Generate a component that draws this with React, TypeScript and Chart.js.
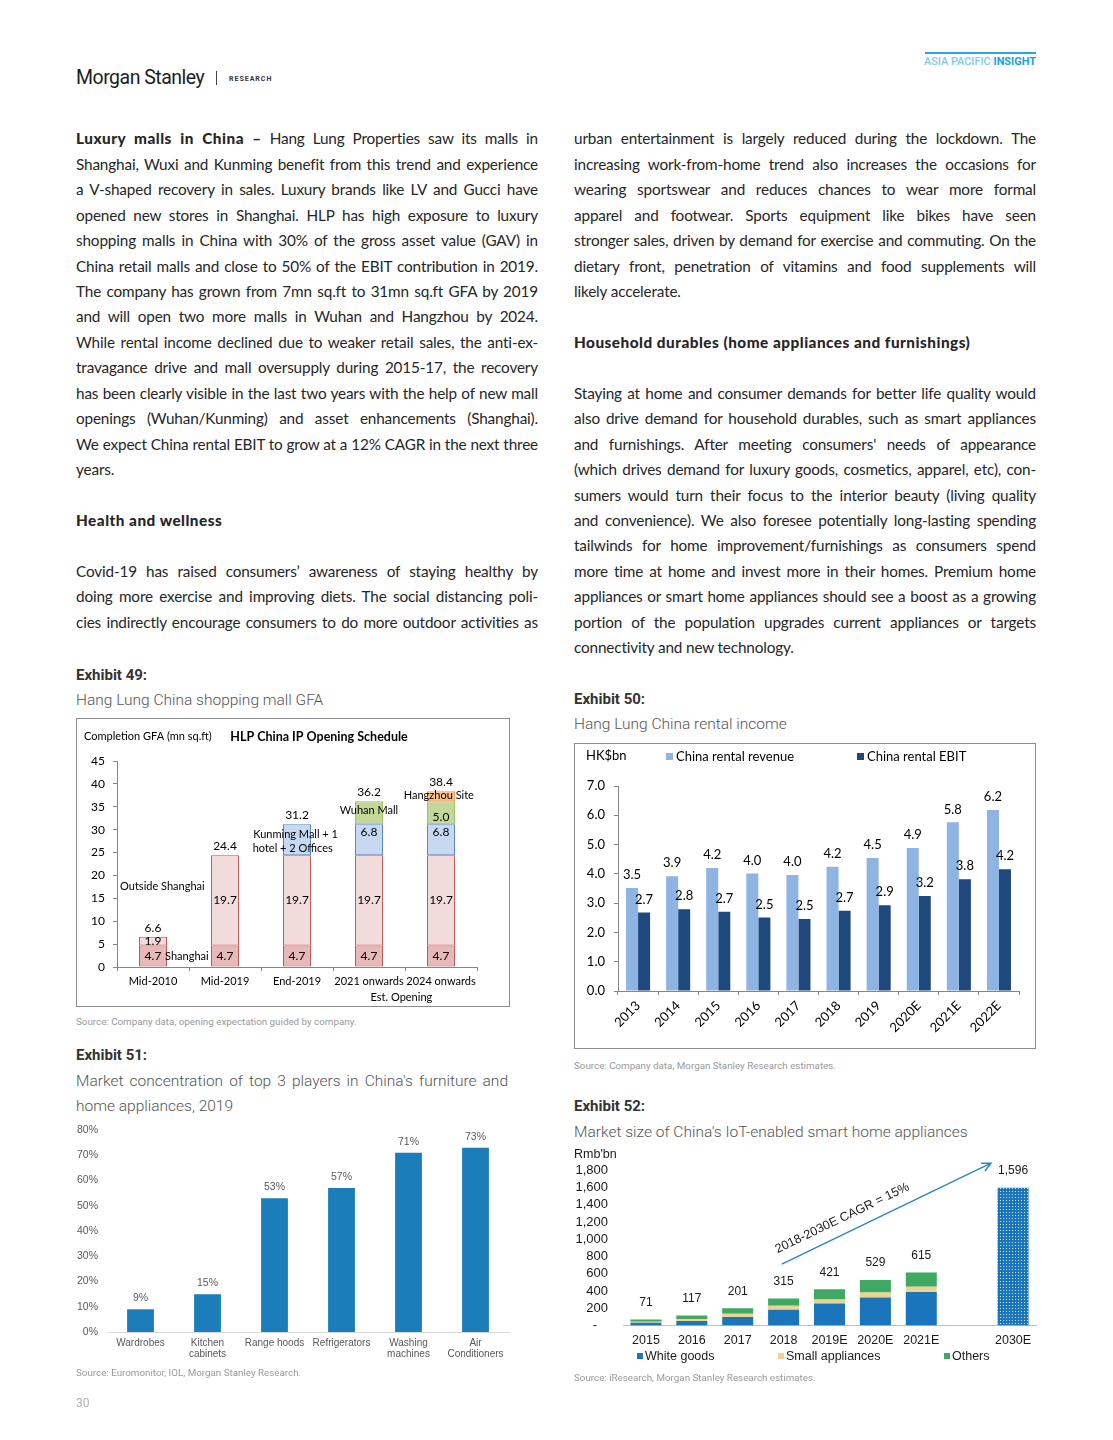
import React, { useEffect, useRef } from 'react';
import { Chart, registerables } from 'chart.js';

Chart.register(...registerables);

// ---------------- Exhibit 49: Hang Lung China shopping mall GFA ----------------
const gfaCategories = ['Mid-2010', 'Mid-2019', 'End-2019', '2021 onwards', '2024 onwards'];
const gfaShanghai = [4.7, 4.7, 4.7, 4.7, 4.7];
const gfaOutsideShanghai = [1.9, 19.7, 19.7, 19.7, 19.7];
const gfaKunming = [null, null, 6.8, 6.8, 6.8];
const gfaWuhan = [null, null, null, 5.0, 5.0];
const gfaHangzhou = [null, null, null, null, 2.2];

// ---------------- Exhibit 50: Hang Lung China rental income ----------------
const rentalYears = ['2013', '2014', '2015', '2016', '2017', '2018', '2019', '2020E', '2021E', '2022E'];
const rentalRevenue = [3.52, 3.92, 4.2, 4.01, 3.96, 4.24, 4.54, 4.88, 5.76, 6.18];
const rentalEbit = [2.68, 2.79, 2.71, 2.51, 2.46, 2.74, 2.93, 3.24, 3.82, 4.16];

// ---------------- Exhibit 51: Market concentration ----------------
const concCategories = [['Wardrobes'], ['Kitchen', 'cabinets'], ['Range hoods'], ['Refrigerators'], ['Washing', 'machines'], ['Air', 'Conditioners']];
const concShare = [9, 15, 53, 57, 71, 73];

// ---------------- Exhibit 52: IoT smart home appliances ----------------
const iotYears = ['2015', '2016', '2017', '2018', '2019E', '2020E', '2021E', '', '2030E'];
const iotWhiteGoods = [32, 53, 100, 183, 256, 325, 388, null, null];
const iotSmallAppliances = [12, 20, 36, 48, 47, 59, 63, null, null];
const iotOthers = [27, 44, 65, 84, 118, 145, 164, null, null];
const iotTotal2030 = [null, null, null, null, null, null, null, null, 1596];
const iotCagrLabel = '2018-2030E CAGR = 15%';

// ---------------- Body text ----------------
type Line = { text?: string; bold?: string; last?: boolean } | null;

const leftLines: Line[] = [
  { bold: 'Luxury malls in China –', text: ' Hang Lung Properties saw its malls in' },
  { text: 'Shanghai, Wuxi and Kunming benefit from this trend and experience' },
  { text: 'a V-shaped recovery in sales. Luxury brands like LV and Gucci have' },
  { text: 'opened new stores in Shanghai. HLP has high exposure to luxury' },
  { text: 'shopping malls in China with 30% of the gross asset value (GAV) in' },
  { text: 'China retail malls and close to 50% of the EBIT contribution in 2019.' },
  { text: 'The company has grown from 7mn sq.ft to 31mn sq.ft GFA by 2019' },
  { text: 'and will open two more malls in Wuhan and Hangzhou by 2024.' },
  { text: 'While rental income declined due to weaker retail sales, the anti-ex-' },
  { text: 'travagance drive and mall oversupply during 2015-17, the recovery' },
  { text: 'has been clearly visible in the last two years with the help of new mall' },
  { text: 'openings (Wuhan/Kunming) and asset enhancements (Shanghai).' },
  { text: 'We expect China rental EBIT to grow at a 12% CAGR in the next three' },
  { text: 'years.', last: true },
  null,
  { bold: 'Health and wellness', last: true },
  null,
  { text: 'Covid-19 has raised consumers’ awareness of staying healthy by' },
  { text: 'doing more exercise and improving diets. The social distancing poli-' },
  { text: 'cies indirectly encourage consumers to do more outdoor activities as' },
];

const rightLines: Line[] = [
  { text: 'urban entertainment is largely reduced during the lockdown. The' },
  { text: 'increasing work-from-home trend also increases the occasions for' },
  { text: 'wearing sportswear and reduces chances to wear more formal' },
  { text: 'apparel and footwear. Sports equipment like bikes have seen' },
  { text: 'stronger sales, driven by demand for exercise and commuting. On the' },
  { text: 'dietary front, penetration of vitamins and food supplements will' },
  { text: 'likely accelerate.', last: true },
  null,
  { bold: 'Household durables (home appliances and furnishings)', last: true },
  null,
  { text: 'Staying at home and consumer demands for better life quality would' },
  { text: 'also drive demand for household durables, such as smart appliances' },
  { text: "and furnishings. After meeting consumers' needs of appearance" },
  { text: '(which drives demand for luxury goods, cosmetics, apparel, etc), con-' },
  { text: 'sumers would turn their focus to the interior beauty (living quality' },
  { text: 'and convenience). We also foresee potentially long-lasting spending' },
  { text: 'tailwinds for home improvement/furnishings as consumers spend' },
  { text: 'more time at home and invest more in their homes. Premium home' },
  { text: 'appliances or smart home appliances should see a boost as a growing' },
  { text: 'portion of the population upgrades current appliances or targets' },
  { text: 'connectivity and new technology.', last: true },
];

const CAL = 'Lato, "Liberation Sans", sans-serif';
const ARIAL = '"Liberation Sans", Arial, sans-serif';
const AXIS_GREY = '#868686';

// fix an axis box size and drop the extra label padding it asks of the layout
const fixWidth = (w: number) => (s: any) => { s.width = w; s.paddingTop = 0; s.paddingBottom = 0; };
const fixHeight = (h: number) => (s: any) => { s.height = h; s.paddingLeft = 0; s.paddingRight = 0; };

// ---------------- Chart configs ----------------
function gfaConfig(): any {
  const mk = (label: string, data: any[], bg: string, border: string) => ({
    label, data, backgroundColor: bg, borderColor: border, borderWidth: 1, borderSkipped: false,
    stack: 's', barPercentage: 0.39, categoryPercentage: 1,
  });
  const datasets = [
    mk('Shanghai', gfaShanghai, '#e6b9b8', '#c0504d'),
    mk('Outside Shanghai', gfaOutsideShanghai, '#f2dcdb', '#c0504d'),
    mk('Kunming', gfaKunming, '#c6d9f1', '#4f81bd'),
    mk('Wuhan', gfaWuhan, '#c4d79b', '#9bbb59'),
    mk('Hangzhou', gfaHangzhou, '#fac090', '#f79646'),
  ];
  const plugin = {
    id: 'gfaText',
    afterDatasetsDraw(chart: any) {
      const { ctx, scales: { x, y }, chartArea } = chart;
      ctx.save();
      ctx.fillStyle = '#000';
      ctx.textAlign = 'center';
      ctx.textBaseline = 'middle';
      ctx.font = `12px ${CAL}`;
      const insideOffset = [0, 0, -8, 4, 0];
      const showInside = (di: number, i: number) => di <= 1 || (di === 2 && i >= 3) || (di === 3 && i === 4);
      chart.data.datasets.forEach((ds: any, di: number) => {
        const meta = chart.getDatasetMeta(di);
        meta.data.forEach((el: any, i: number) => {
          const v = ds.data[i];
          if (v == null || !showInside(di, i)) return;
          ctx.fillText(v.toFixed(1), el.x, (el.y + el.base) / 2 + insideOffset[di]);
        });
      });
      gfaCategories.forEach((_, i) => {
        const total = datasets.reduce((s, d) => s + ((d.data[i] as number) ?? 0), 0);
        ctx.fillText(total.toFixed(1), x.getPixelForValue(i), y.getPixelForValue(total) - 9);
      });
      ctx.font = `11px ${CAL}`;
      const note = (t: string, xi: number, v: number) => ctx.fillText(t, x.getPixelForValue(xi), y.getPixelForValue(v));
      note('Outside Shanghai', 0.13, 17.5);
      note('Shanghai', 0.47, 2.4);
      note('Kunming Mall + 1', 1.98, 29.0);
      note('hotel + 2 Offices', 1.94, 25.9);
      note('Wuhan Mall', 3.0, 34.1);
      note('Hangzhou Site', 3.97, 37.4);
      ctx.fillText('Est. Opening', x.getPixelForValue(3.45), chartArea.bottom + 30);
      ctx.textAlign = 'left';
      ctx.font = `11px ${CAL}`;
      ctx.fillText('Completion GFA (mn sq.ft)', 7, 17);
      ctx.textAlign = 'center';
      ctx.font = `bold 12.5px ${CAL}`;
      ctx.fillText('HLP China IP Opening Schedule', 242, 18);
      ctx.restore();
    },
  };
  return {
    type: 'bar',
    data: { labels: gfaCategories, datasets },
    options: {
      responsive: false, animation: false, devicePixelRatio: 1,
      layout: { padding: { top: 42, right: 31, bottom: 0, left: 0 } },
      plugins: { legend: { display: false }, tooltip: { enabled: false } },
      scales: {
        x: {
          stacked: true,
          grid: { offset: true, drawOnChartArea: false, tickLength: 4, color: AXIS_GREY },
          border: { color: AXIS_GREY },
          ticks: { font: { family: CAL, size: 11 }, color: '#000', padding: 4, maxRotation: 0, autoSkip: false },
          afterFit: fixHeight(38),
        },
        y: {
          stacked: true, min: 0, max: 45,
          grid: { drawOnChartArea: false, tickLength: 4, color: AXIS_GREY },
          border: { color: AXIS_GREY },
          ticks: { stepSize: 5, font: { family: CAL, size: 12 }, color: '#000', padding: 8, autoSkip: false },
          afterFit: fixWidth(40),
        },
      },
    },
    plugins: [plugin],
  };
}

function rentalConfig(): any {
  const REV = '#8db4e2';
  const EBIT = '#1f497d';
  const plugin = {
    id: 'rentalText',
    afterDatasetsDraw(chart: any) {
      const { ctx } = chart;
      ctx.save();
      ctx.fillStyle = '#000';
      ctx.textAlign = 'center';
      ctx.textBaseline = 'middle';
      ctx.font = `13px ${CAL}`;
      chart.data.datasets.forEach((ds: any, di: number) => {
        chart.getDatasetMeta(di).data.forEach((el: any, i: number) => {
          ctx.fillText(ds.data[i].toFixed(1), el.x, el.y - 13);
        });
      });
      ctx.textAlign = 'left';
      ctx.fillText('HK$bn', 11, 12);
      ctx.fillStyle = REV;
      ctx.fillRect(91, 9, 7, 7);
      ctx.fillStyle = EBIT;
      ctx.fillRect(282, 9, 7, 7);
      ctx.fillStyle = '#000';
      ctx.fillText('China rental revenue', 101, 13);
      ctx.fillText('China rental EBIT', 292, 13);
      ctx.restore();
    },
  };
  return {
    type: 'bar',
    data: {
      labels: rentalYears,
      datasets: [
        { label: 'China rental revenue', data: rentalRevenue, backgroundColor: REV, barPercentage: 1, categoryPercentage: 0.6 },
        { label: 'China rental EBIT', data: rentalEbit, backgroundColor: EBIT, barPercentage: 1, categoryPercentage: 0.6 },
      ],
    },
    options: {
      responsive: false, animation: false, devicePixelRatio: 1,
      layout: { padding: { top: 42, right: 16, bottom: 0, left: 0 } },
      plugins: { legend: { display: false }, tooltip: { enabled: false } },
      scales: {
        x: {
          grid: { offset: true, drawOnChartArea: false, tickLength: 4, color: AXIS_GREY },
          border: { color: AXIS_GREY },
          ticks: { font: { family: CAL, size: 13 }, color: '#000', padding: 3, minRotation: 45, maxRotation: 45, autoSkip: false },
          afterFit: fixHeight(57),
        },
        y: {
          min: 0, max: 7,
          grid: { drawOnChartArea: false, tickLength: 4, color: AXIS_GREY },
          border: { color: AXIS_GREY },
          ticks: { stepSize: 1, font: { family: CAL, size: 13 }, color: '#000', padding: 9, autoSkip: false, callback: (v: any) => Number(v).toFixed(1) },
          afterFit: fixWidth(43),
        },
      },
    },
    plugins: [plugin],
  };
}

function concConfig(): any {
  const plugin = {
    id: 'concText',
    afterDatasetsDraw(chart: any) {
      const { ctx } = chart;
      ctx.save();
      ctx.fillStyle = '#595959';
      ctx.textAlign = 'center';
      ctx.textBaseline = 'middle';
      ctx.font = `10.5px ${ARIAL}`;
      chart.getDatasetMeta(0).data.forEach((el: any, i: number) => {
        ctx.fillText(concShare[i] + '%', el.x, el.y - 11);
      });
      ctx.restore();
    },
  };
  return {
    type: 'bar',
    data: {
      labels: concCategories,
      datasets: [{ label: 'Top 3 share', data: concShare, backgroundColor: '#1b7dba', barPercentage: 0.4, categoryPercentage: 1 }],
    },
    options: {
      responsive: false, animation: false, devicePixelRatio: 1,
      layout: { padding: { top: 10, right: 7, bottom: 0, left: 0 } },
      plugins: { legend: { display: false }, tooltip: { enabled: false } },
      scales: {
        x: {
          grid: { display: false, drawTicks: false },
          border: { color: '#d9d9d9' },
          ticks: { font: { family: ARIAL, size: 10, lineHeight: 1.1 }, color: '#595959', padding: 6, maxRotation: 0, autoSkip: false },
          afterFit: fixHeight(50),
        },
        y: {
          min: 0, max: 80,
          grid: { display: false, drawTicks: false },
          border: { display: false },
          ticks: { stepSize: 10, font: { family: ARIAL, size: 10.5 }, color: '#595959', padding: 9, autoSkip: false, callback: (v: any) => v + '%' },
          afterFit: fixWidth(41),
        },
      },
    },
    plugins: [plugin],
  };
}

function dotPattern(): any {
  const c = document.createElement('canvas');
  c.width = 3; c.height = 3;
  const g = c.getContext('2d')!;
  g.fillStyle = '#1b75bc';
  g.fillRect(0, 0, 3, 3);
  g.fillStyle = '#d6e8f5';
  g.fillRect(1, 1, 1, 1);
  return g.createPattern(c, 'repeat');
}

function iotConfig(): any {
  const WG = '#1b75bc', SA = '#efd28f', OT = '#3fa862';
  const series = [iotWhiteGoods, iotSmallAppliances, iotOthers, iotTotal2030];
  const plugin = {
    id: 'iotText',
    afterDatasetsDraw(chart: any) {
      const { ctx, scales: { x, y } } = chart;
      ctx.save();
      ctx.fillStyle = '#1a1a1a';
      ctx.textAlign = 'center';
      ctx.textBaseline = 'middle';
      ctx.font = `12px ${ARIAL}`;
      iotYears.forEach((_, i) => {
        const total = series.reduce((s, a) => s + ((a[i] as number) ?? 0), 0);
        if (!total) return;
        ctx.fillText(total.toLocaleString('en-US'), x.getPixelForValue(i), y.getPixelForValue(total) - 17);
      });
      // CAGR arrow
      const x0 = x.getPixelForValue(2.96), y0 = y.getPixelForValue(713);
      const x1 = x.getPixelForValue(7.52), y1 = y.getPixelForValue(1882);
      const ang = Math.atan2(y1 - y0, x1 - x0);
      ctx.strokeStyle = '#2f86c2';
      ctx.lineWidth = 1.5;
      ctx.beginPath();
      ctx.moveTo(x0, y0);
      ctx.lineTo(x1, y1);
      ctx.moveTo(x1 - 10 * Math.cos(ang - 0.45), y1 - 10 * Math.sin(ang - 0.45));
      ctx.lineTo(x1, y1);
      ctx.lineTo(x1 - 10 * Math.cos(ang + 0.45), y1 - 10 * Math.sin(ang + 0.45));
      ctx.stroke();
      const t = 0.32;
      ctx.translate(x0 + (x1 - x0) * t, y0 + (y1 - y0) * t);
      ctx.rotate(ang);
      ctx.font = `12.5px ${ARIAL}`;
      ctx.fillText(iotCagrLabel, 0, -15);
      ctx.restore();
      ctx.save();
      ctx.textBaseline = 'middle';
      ctx.font = `12.5px ${ARIAL}`;
      ctx.fillStyle = '#1a1a1a';
      ctx.fillText("Rmb'bn", 4, 7);
      const legend: [string, string, number][] = [['White goods', WG, 67], ['Small appliances', SA, 208], ['Others', OT, 374]];
      legend.forEach(([name, col, lx]) => {
        ctx.fillStyle = col;
        ctx.fillRect(lx, 205, 6, 6);
        ctx.fillStyle = '#1a1a1a';
        ctx.fillText(name, lx + 8, 208.5);
      });
      ctx.restore();
    },
  };
  const mk = (label: string, data: any[], bg: any) => ({ label, data, backgroundColor: bg, stack: 's', barPercentage: 0.676, categoryPercentage: 1 });
  return {
    type: 'bar',
    data: {
      labels: iotYears,
      datasets: [
        mk('White goods', iotWhiteGoods, WG),
        mk('Small appliances', iotSmallAppliances, SA),
        mk('Others', iotOthers, OT),
        mk('2030E total', iotTotal2030, dotPattern()),
      ],
    },
    options: {
      responsive: false, animation: false, devicePixelRatio: 1,
      layout: { padding: { top: 5, right: 2, bottom: 18.4, left: 0 } },
      plugins: { legend: { display: false }, tooltip: { enabled: false } },
      scales: {
        x: {
          stacked: true,
          grid: { display: false, drawTicks: false },
          border: { color: '#bfbfbf' },
          ticks: { font: { family: ARIAL, size: 12.5 }, color: '#1a1a1a', padding: 7, maxRotation: 0, autoSkip: false },
          afterFit: fixHeight(26),
        },
        y: {
          stacked: true, min: 0, max: 2000,
          grid: { display: false, drawTicks: false },
          border: { display: false },
          ticks: {
            stepSize: 200, font: { family: ARIAL, size: 13 }, color: '#1a1a1a', padding: 15, autoSkip: false,
            callback: (v: any) => (v === 0 ? '-   ' : v > 1800 ? '' : Number(v).toLocaleString('en-US')),
          },
          afterFit: fixWidth(53),
        },
      },
    },
    plugins: [plugin],
  };
}

// ---------------- Components ----------------
function ChartCanvas({ left, top, width, height, make }: { left: number; top: number; width: number; height: number; make: () => any }) {
  const ref = useRef<HTMLCanvasElement>(null);
  useEffect(() => {
    const chart = new Chart(ref.current as HTMLCanvasElement, make());
    return () => chart.destroy();
  }, []);
  return <canvas ref={ref} width={width} height={height} style={{ position: 'absolute', left, top, width, height }} />;
}

const LINE_H = 25.45;

function TextColumn({ left, top, lines }: { left: number; top: number; lines: Line[] }) {
  return (
    <>
      {lines.map((ln, i) =>
        ln ? (
          <div
            key={i}
            style={{
              position: 'absolute', left, top: top + i * LINE_H, width: 462, height: LINE_H,
              lineHeight: LINE_H + 'px', fontSize: 15.3, letterSpacing: -0.15, color: '#262626', fontFamily: 'Lato, sans-serif',
              textAlign: 'justify', textAlignLast: ln.last ? 'left' : 'justify', whiteSpace: 'nowrap',
            } as any}
          >
            {ln.bold && <span style={{ fontWeight: 900, letterSpacing: 0.5 }}>{ln.bold}</span>}
            {ln.text}
          </div>
        ) : null
      )}
    </>
  );
}

const abs = (left: number, centerY: number, extra: any = {}) => ({
  position: 'absolute' as const, left, top: centerY - 10, height: 20, lineHeight: '20px', whiteSpace: 'nowrap' as const, ...extra,
});

const exTitle = { fontFamily: 'Roboto, sans-serif', fontWeight: 700, fontSize: 15, color: '#333' };
const exSub = { fontFamily: 'Roboto, sans-serif', fontWeight: 300, fontSize: 15.5, color: '#555' };
const exSrc = { fontFamily: 'Roboto, sans-serif', fontWeight: 400, fontSize: 9.8, color: '#9a9a9a' };

export default function App() {
  return (
    <div style={{ position: 'absolute', left: 0, top: 0, width: 1113, height: 1440, background: '#fff', overflow: 'hidden' }}>
      {/* Header */}
      <div style={abs(76, 78, { fontFamily: 'Roboto, sans-serif', fontSize: 19.5, color: '#1e1e1e', letterSpacing: -0.5 })}>Morgan Stanley</div>
      <div style={{ position: 'absolute', left: 216, top: 71, width: 1, height: 14, background: '#444' }} />
      <div style={abs(229, 79, { fontFamily: 'Roboto, sans-serif', fontSize: 7, fontWeight: 700, color: '#333', letterSpacing: 1 })}>RESEARCH</div>
      <div style={{ position: 'absolute', left: 925, top: 52, width: 111, height: 2, background: '#2aa7df' }} />
      <div style={{ position: 'absolute', right: 1113 - 1036, top: 54, height: 14, lineHeight: '14px', whiteSpace: 'nowrap', fontFamily: 'Roboto, sans-serif', fontSize: 11.5, fontWeight: 500, transform: 'scaleX(0.95)', transformOrigin: 'right center' }}>
        <span style={{ color: '#7ccbee' }}>ASIA PACIFIC </span>
        <span style={{ color: '#1c9fdb', fontWeight: 700 }}>INSIGHT</span>
      </div>

      {/* Body text */}
      <TextColumn left={76} top={139 - LINE_H / 2} lines={leftLines} />
      <TextColumn left={574} top={139 - LINE_H / 2} lines={rightLines} />

      {/* Exhibit 49 */}
      <div style={abs(76, 675, exTitle)}>Exhibit 49:</div>
      <div style={abs(76, 700, exSub)}>Hang Lung China shopping mall GFA</div>
      <div style={{ position: 'absolute', left: 76, top: 718, width: 432, height: 287, border: '1px solid #8c8c8c' }} />
      <ChartCanvas left={77} top={719} width={431} height={286} make={gfaConfig} />
      <div style={abs(76, 1022, exSrc)}>Source: Company data, opening expectation guided by company.</div>

      {/* Exhibit 50 */}
      <div style={abs(574, 699, exTitle)}>Exhibit 50:</div>
      <div style={abs(574, 724, exSub)}>Hang Lung China rental income</div>
      <div style={{ position: 'absolute', left: 574, top: 743, width: 460, height: 304, border: '1px solid #8c8c8c' }} />
      <ChartCanvas left={575} top={744} width={460} height={304} make={rentalConfig} />
      <div style={abs(574, 1066, exSrc)}>Source: Company data, Morgan Stanley Research estimates.</div>

      {/* Exhibit 51 */}
      <div style={abs(76, 1055, exTitle)}>Exhibit 51:</div>
      <div style={abs(76, 1081, { ...exSub, width: 432, textAlign: 'justify', textAlignLast: 'justify' })}>Market concentration of top 3 players in China's furniture and</div>
      <div style={abs(76, 1106, exSub)}>home appliances, 2019</div>
      <ChartCanvas left={66} top={1120} width={450} height={262} make={concConfig} />
      <div style={abs(76, 1373, exSrc)}>Source: Euromonitor, IOL, Morgan Stanley Research.</div>

      {/* Exhibit 52 */}
      <div style={abs(574, 1106, exTitle)}>Exhibit 52:</div>
      <div style={abs(574, 1132, exSub)}>Market size of China's IoT-enabled smart home appliances</div>
      <ChartCanvas left={570} top={1148} width={468} height={222} make={iotConfig} />
      <div style={abs(574, 1378, exSrc)}>Source: iResearch, Morgan Stanley Research estimates.</div>

      {/* Page number */}
      <div style={abs(76, 1403, { fontFamily: 'Roboto, sans-serif', fontSize: 12, color: '#b3b3b3' })}>30</div>
    </div>
  );
}
